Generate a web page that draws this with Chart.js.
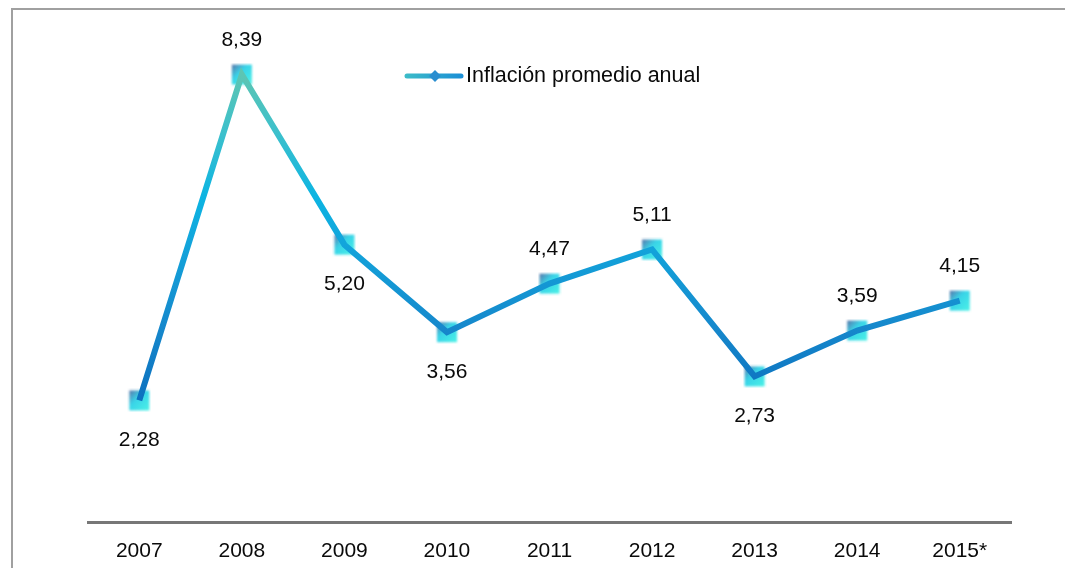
<!DOCTYPE html>
<html>
<head>
<meta charset="utf-8">
<script src="https://cdn.jsdelivr.net/npm/chart.js@4.4.1/dist/chart.umd.min.js"></script>
<style>
  html, body { margin: 0; padding: 0; background: #fff; }
  #wrap { width: 1065px; height: 568px; position: relative; }
</style>
</head>
<body>
<div id="wrap"><canvas id="chart"></canvas></div>
<script>
// ── data ──────────────────────────────────────────────
const years = ['2007', '2008', '2009', '2010', '2011', '2012', '2013', '2014', '2015*'];
const inflation = [2.28, 8.39, 5.20, 3.56, 4.47, 5.11, 2.73, 3.59, 4.15];
const labelSide = ['below', 'above', 'below', 'below', 'above', 'above', 'below', 'above', 'above'];
const seriesName = 'Inflación promedio anual';

const FONT = "'Liberation Sans', Arial, sans-serif";

// blurry gradient square used as the point marker
function makeMarker() {
    const c = document.createElement('canvas');
    c.width = 24; c.height = 24;
    const g = c.getContext('2d');
    const grad = g.createLinearGradient(2, 2, 22, 22);
    grad.addColorStop(0, 'rgba(80,110,165,0.95)');
    grad.addColorStop(0.4, 'rgba(40,208,230,0.92)');
    grad.addColorStop(1, 'rgba(70,242,230,0.97)');
    g.filter = 'blur(0.8px)';
    g.fillStyle = grad;
    g.fillRect(2, 2, 20, 20);
    return c;
}
const marker = makeMarker();

function lineGradient(chart) {
    const { ctx, chartArea, scales } = chart;
    if (!chartArea) return '#1a90d0';
    const y = scales.y;
    const g = ctx.createLinearGradient(0, y.getPixelForValue(2), 0, y.getPixelForValue(8.6));
    g.addColorStop(0, '#0a6cbc');
    g.addColorStop(0.25, '#1688cc');
    g.addColorStop(0.5, '#12a6dc');
    g.addColorStop(0.62, '#0cb4e2');
    g.addColorStop(0.8, '#3cc0cc');
    g.addColorStop(1, '#62c6ae');
    return g;
}

const framePlugin = {
    id: 'frame',
    beforeDraw(chart) {
        const c = chart.ctx;
        c.save();
        c.fillStyle = '#fff';
        c.fillRect(0, 0, chart.width, chart.height);
        c.strokeStyle = '#a0a0a0';
        c.lineWidth = 2;
        c.beginPath();
        c.moveTo(12, chart.height);
        c.lineTo(12, 9);
        c.lineTo(chart.width, 9);
        c.stroke();
        c.restore();
    }
};

const valueLabels = {
    id: 'valueLabels',
    afterDatasetsDraw(chart) {
        const c = chart.ctx;
        const meta = chart.getDatasetMeta(1);
        c.save();
        c.font = '21px ' + FONT;
        c.fillStyle = '#0a0a0a';
        c.textAlign = 'center';
        c.textBaseline = 'middle';
        meta.data.forEach((pt, i) => {
            const txt = inflation[i].toFixed(2).replace('.', ',');
            const dy = labelSide[i] === 'above' ? -34 : 40;
            c.fillText(txt, pt.x, pt.y + dy);
        });
        c.restore();
    }
};

const legendPlugin = {
    id: 'customLegend',
    afterDraw(chart) {
        const c = chart.ctx;
        const y = 76;
        c.save();
        const g = c.createLinearGradient(405, 0, 463, 0);
        g.addColorStop(0, '#3cbcc8');
        g.addColorStop(1, '#1a8ed6');
        c.strokeStyle = g;
        c.lineWidth = 5;
        c.lineCap = 'round';
        c.beginPath();
        c.moveTo(407, y);
        c.lineTo(461, y);
        c.stroke();
        c.fillStyle = '#2a8ed0';
        c.beginPath();
        c.moveTo(435, y - 6);
        c.lineTo(441, y);
        c.lineTo(435, y + 6);
        c.lineTo(429, y);
        c.closePath();
        c.fill();
        c.font = '21.5px ' + FONT;
        c.fillStyle = '#0a0a0a';
        c.textAlign = 'left';
        c.textBaseline = 'middle';
        c.fillText(seriesName, 466, y);
        c.restore();
    }
};

new Chart(document.getElementById('chart'), {
    type: 'line',
    data: {
        labels: years,
        datasets: [
            { label: seriesName, data: inflation, showLine: false, pointStyle: marker, pointRadius: 10, order: 2 },
            { label: seriesName, data: inflation, borderColor: c => lineGradient(c.chart), borderWidth: 6, pointRadius: 0, tension: 0, order: 1 }
        ]
    },
    options: {
        responsive: true, maintainAspectRatio: false, animation: false,
        layout: { padding: { left: 88, right: 54, top: 42, bottom: 0 } },
        plugins: { legend: { display: false }, tooltip: { enabled: false } },
        scales: {
            x: {
                offset: true,
                grid: { display: false },
                border: { color: '#777', width: 3 },
                ticks: { color: '#0a0a0a', padding: 9, font: { family: FONT, size: 21 } },
                afterFit: s => { s.height = 46; }
            },
            y: { display: false, min: 0, max: 9 }
        }
    },
    plugins: [framePlugin, valueLabels, legendPlugin]
});
</script>
</body>
</html>
